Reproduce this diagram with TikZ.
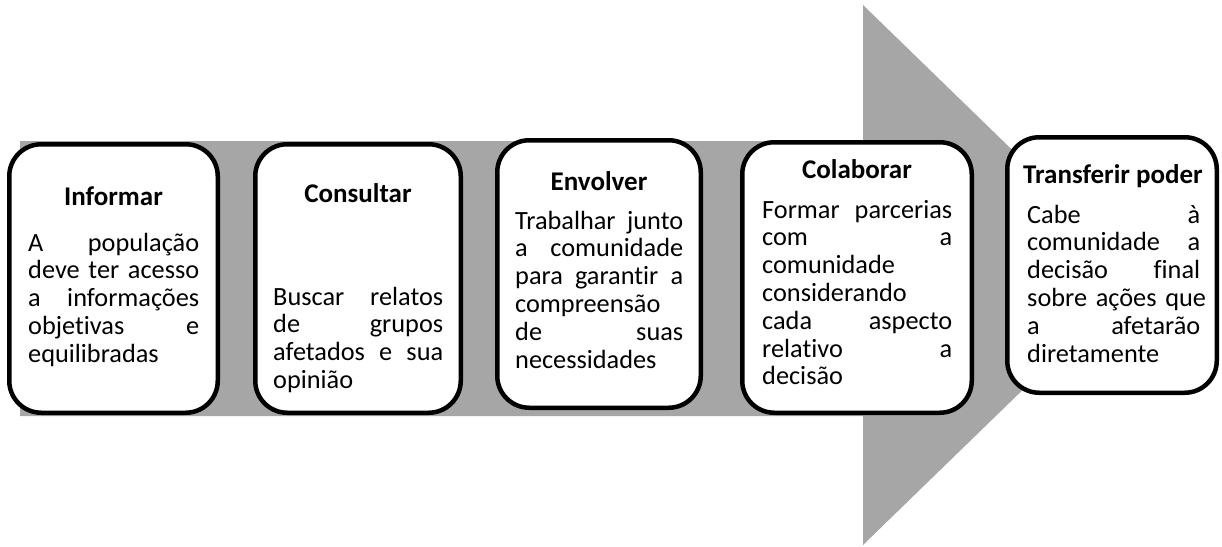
\documentclass[tikz,border=0pt]{standalone}
\usepackage{fontspec}
\setmainfont{Carlito}[Ligatures={NoCommon}]
\definecolor{arrowgray}{RGB}{166,166,166}
\newcommand{\J}[1]{\leavevmode\hbox to\hsize{#1}}
\begin{document}
\begin{tikzpicture}[x=1pt,y=-1pt,
  stepbox/.style={draw=black, line width=4.5pt, fill=white, rounded corners=32pt, inner sep=0pt},
  title/.style={font=\fontsize{27}{27.8}\selectfont\bfseries, inner sep=0pt, anchor=base},
  body/.style={font=\fontsize{26.3}{27.8}\selectfont, inner sep=0pt, anchor=base west, align=left}]
\useasboundingbox (0,0) rectangle (1222,546);
% big gray arrow
\fill[arrowgray] (20,141) -- (863,141) -- (863,5) -- (1141,275) -- (863,545) -- (863,416) -- (20,416) -- cycle;
% boxes
\node[stepbox, minimum width=208.5pt, minimum height=268.5pt] (b1) at (113.5,278.5) {};
\node[stepbox, minimum width=205.5pt, minimum height=268.5pt] (b2) at (358,278.5) {};
\node[stepbox, minimum width=203.5pt, minimum height=267.5pt] (b3) at (599,274) {};
\node[stepbox, minimum width=229.5pt, minimum height=270.5pt] (b4) at (857,277.5) {};
\node[stepbox, minimum width=209.5pt, minimum height=255.5pt] (b5) at (1112,265) {};
% titles
\node[title] (h1) at (113.5,205) {Informar};
\node[title] (h2) at (358,202) {Consultar};
\node[title] (h3) at (599,190) {Envolver};
\node[title] (h4) at (857,178) {Colaborar};
\node[title] (h5) at (1113,183) {Transferir poder};
% bodies
\node[body, text width=171pt] (t1) at (28,251) {\J{A\hfill população}\\\J{deve\hfill ter\hfill acesso}\\\J{a\hfill informações}\\\J{objetivas\hfill e}\\equilibradas};
\node[body, text width=170pt] (t2) at (273,305) {\J{Buscar\hfill relatos}\\\J{de\hfill grupos}\\\J{afetados\hfill e\hfill sua}\\opinião};
\node[body, text width=168pt] (t3) at (515,229) {\J{Trabalhar\hfill junto}\\\J{a\hfill comunidade}\\\J{para\hfill garantir\hfill a}\\compreensão\\\J{de\hfill suas}\\necessidades};
\node[body, text width=190pt] (t4) at (762,218) {\J{Formar\hfill parcerias}\\\J{com\hfill a}\\comunidade\\considerando\\\J{cada\hfill aspecto}\\\J{relativo\hfill a}\\decisão};
\node[body, text width=173pt] (t5) at (1027,223) {\J{Cabe\hfill à}\\\J{comunidade\hfill a}\\\J{decisão\hfill final}\\\J{sobre ações que}\\\J{a\hfill afetarão}\\diretamente};
\end{tikzpicture}
\end{document}
